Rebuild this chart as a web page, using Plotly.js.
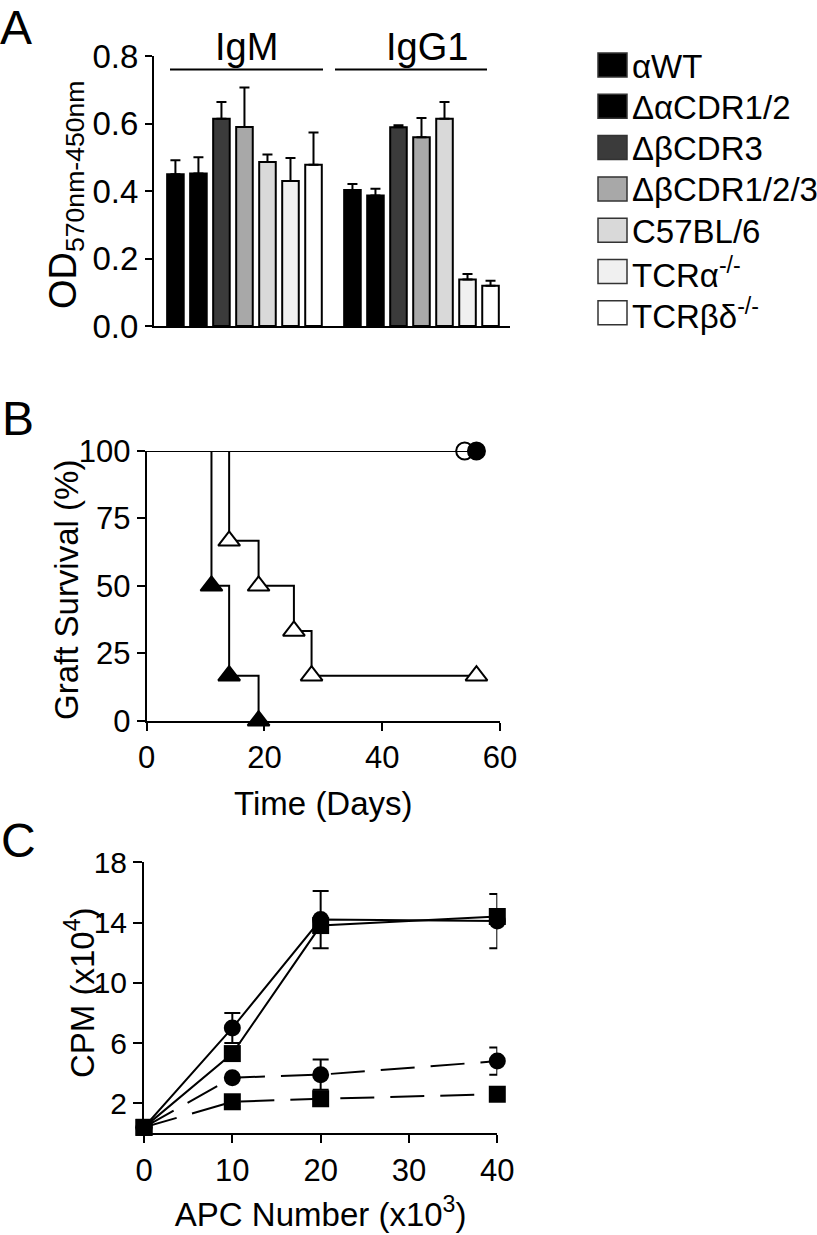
<!DOCTYPE html>
<html>
<head>
<meta charset="utf-8">
<script src="https://cdn.plot.ly/plotly-3.0.1.min.js"></script>
<style>
html,body{margin:0;padding:0;background:#fff;}
#chart{width:817px;height:1235px;}
</style>
</head>
<body>
<div id="chart"></div>
<script>
// ---------- Panel A data ----------
const odCategories = ['IgM', 'IgG1'];
const strainNames = ['αWT', 'ΔαCDR1/2', 'ΔβCDR3', 'ΔβCDR1/2/3', 'C57BL/6', 'TCRα<sup>-/-</sup>', 'TCRβδ<sup>-/-</sup>'];
const igmValues  = [0.450, 0.452, 0.614, 0.590, 0.486, 0.430, 0.478];
const igmErrors  = [0.041, 0.048, 0.050, 0.117, 0.022, 0.068, 0.095];
const igg1Values = [0.403, 0.387, 0.589, 0.559, 0.614, 0.138, 0.119];
const igg1Errors = [0.018, 0.020, 0.006, 0.057, 0.050, 0.016, 0.015];
const odTicks = [0.0, 0.2, 0.4, 0.6, 0.8];

// ---------- Panel B data ----------
const rejectFastDays = [0, 11, 14, 19];
const rejectFastSurv = [100, 50, 16.7, 0];
const rejectSlowDays = [0, 14, 19, 25, 28, 56];
const rejectSlowSurv = [100, 66.7, 50, 33.3, 16.7, 16.7];
const acceptOpenDays = [0, 54];
const acceptOpenSurv = [100, 100];
const acceptFilledDays = [0, 56];
const acceptFilledSurv = [100, 100];
const survivalTicks = [0, 25, 50, 75, 100];
const dayTicks = [0, 20, 40, 60];

// ---------- Panel C data ----------
const apcNumber = [0, 10, 20, 40];
const cpmCircleSolid = [0.4, 7.0, 14.2, 14.1];
const cpmCircleSolidErr = [0, 1.0, 1.9, 1.8];
const cpmSquareSolid = [0.4, 5.3, 13.8, 14.4];
const cpmCircleDashed = [0.4, 3.7, 3.9, 4.8];
const cpmCircleDashedErr = [0, 0, 1.0, 0.9];
const cpmSquareDashed = [0.4, 2.1, 2.3, 2.6];
const apcTicks = [0, 10, 20, 30, 40];
const cpmTicks = [2, 6, 10, 14, 18];

// ---------- styles ----------
const W = 817, H = 1235;
const FONT = 'Liberation Sans, Arial, Helvetica, sans-serif';
const strainColors = ['#000000', '#000000', '#3b3b3b', '#a8a8a8', '#d9d9d9', '#f0f0f0', '#ffffff'];
const px = x => x / W;
const py = y => 1 - y / H;

const traces = [];

// Panel A bars
strainNames.forEach((name, i) => {
  traces.push({
    type: 'bar', name: name, xaxis: 'x', yaxis: 'y',
    x: odCategories,
    y: [igmValues[i], igg1Values[i]],
    marker: {color: strainColors[i], line: {color: '#000', width: 2}},
    error_y: {type: 'data', symmetric: false, array: [igmErrors[i], igg1Errors[i]], arrayminus: [0, 0],
              color: '#000', thickness: 2, width: 5},
    showlegend: false, cliponaxis: false
  });
});

// Panel B survival curves
function kmTraces(days, surv, symbol, fill) {
  traces.push({type: 'scatter', mode: 'lines', xaxis: 'x2', yaxis: 'y2', x: days, y: surv,
    line: {color: '#000', width: 2, shape: 'hv'}, showlegend: false, cliponaxis: false});
  traces.push({type: 'scatter', mode: 'markers', xaxis: 'x2', yaxis: 'y2', x: days.slice(1), y: surv.slice(1),
    marker: {symbol: symbol, size: symbol.indexOf('triangle') === 0 ? 19 : 17, color: fill, line: {color: '#000', width: 2}},
    showlegend: false, cliponaxis: false});
}
kmTraces(rejectSlowDays, rejectSlowSurv, 'triangle-up', '#ffffff');
kmTraces(rejectFastDays, rejectFastSurv, 'triangle-up', '#000000');
kmTraces(acceptOpenDays, acceptOpenSurv, 'circle', '#ffffff');
kmTraces(acceptFilledDays, acceptFilledSurv, 'circle', '#000000');

// Panel C proliferation
function cpmTrace(y, err, symbol, dash) {
  const t = {type: 'scatter', mode: 'lines+markers', xaxis: 'x3', yaxis: 'y3', x: apcNumber, y: y,
    line: {color: '#000', width: 2, dash: dash},
    marker: {symbol: symbol, size: 17, color: '#000'},
    showlegend: false, cliponaxis: false};
  if (err) t.error_y = {type: 'data', array: err, color: '#000', thickness: 2, width: 8};
  traces.push(t);
}
cpmTrace(cpmCircleDashed, cpmCircleDashedErr, 'circle', '34px,16px');
cpmTrace(cpmSquareDashed, null, 'square', '34px,16px');
cpmTrace(cpmSquareSolid, null, 'square', 'solid');
cpmTrace(cpmCircleSolid, cpmCircleSolidErr, 'circle', 'solid');

const axisBase = {showline: true, linecolor: '#000', linewidth: 2, showgrid: false, zeroline: false,
  ticks: 'outside', tickwidth: 2, tickcolor: '#000', fixedrange: true};

const shapes = [];
const annotations = [];

// group brackets above bars
[[170, 323], [335, 487]].forEach(b => {
  shapes.push({type: 'line', xref: 'paper', yref: 'paper', x0: px(b[0]), x1: px(b[1]), y0: py(69.5), y1: py(69.5),
    line: {color: '#000', width: 2}});
});
[[247, odCategories[0]], [427, odCategories[1]]].forEach(g => {
  annotations.push({xref: 'paper', yref: 'paper', x: px(g[0]), y: py(47), text: g[1], showarrow: false,
    xanchor: 'center', yanchor: 'middle', font: {size: 38, color: '#000', family: FONT}});
});

// custom legend for panel A
strainNames.forEach((name, i) => {
  const cy = 65 + i * 41.3;
  shapes.push({type: 'rect', xref: 'paper', yref: 'paper', x0: px(598), x1: px(627), y0: py(cy + 12), y1: py(cy - 12),
    fillcolor: strainColors[i], line: {color: '#333', width: 1.5}});
  annotations.push({xref: 'paper', yref: 'paper', x: px(630), y: py(cy + 1), text: name, showarrow: false,
    xanchor: 'left', yanchor: 'middle', font: {size: 33, color: '#000', family: FONT}});
});

// panel letters
[['A', 16, 27], ['B', 18, 418], ['C', 18, 840]].forEach(l => {
  annotations.push({xref: 'paper', yref: 'paper', x: px(l[1]), y: py(l[2]), text: l[0], showarrow: false,
    xanchor: 'center', yanchor: 'middle', font: {size: 48, color: '#000', family: FONT}});
});

// vertical axis titles (placed as rotated text beside each y axis)
[['OD<sub>570nm-450nm</sub>', 66, 195, 38],
 ['Graft Survival (%)', 66, 590, 33],
 ['CPM (x10<sup>4</sup>)', 80, 993, 33]].forEach(t => {
  annotations.push({xref: 'paper', yref: 'paper', x: px(t[1]), y: py(t[2]), text: t[0], showarrow: false,
    textangle: -90, xanchor: 'center', yanchor: 'middle', font: {size: t[3], color: '#000', family: FONT}});
});

const layout = {
  width: W, height: H,
  margin: {l: 0, r: 0, t: 0, b: 0},
  paper_bgcolor: '#fff', plot_bgcolor: 'rgba(0,0,0,0)',
  font: {family: FONT, color: '#000'},
  showlegend: false,
  barmode: 'group', bargap: 0.09, bargroupgap: 0.28,
  xaxis: Object.assign({}, axisBase, {domain: [px(154), px(510)], anchor: 'y', range: [-0.511, 1.5],
    ticks: '', showticklabels: false}),
  yaxis: Object.assign({}, axisBase, {domain: [py(326), py(56)], anchor: 'x', range: [0, 0.8],
    tickvals: odTicks, tickformat: '.1f', ticklen: 7, tickfont: {size: 33}}),
  xaxis2: Object.assign({}, axisBase, {domain: [px(146.7), px(500)], anchor: 'y2', range: [0, 60],
    tickvals: dayTicks, ticklen: 8, tickfont: {size: 31},
    title: {text: 'Time (Days)', font: {size: 33}, standoff: 18}}),
  yaxis2: Object.assign({}, axisBase, {domain: [py(720.7), py(451)], anchor: 'x2', range: [0, 100],
    tickvals: survivalTicks, ticklen: 8, tickfont: {size: 31}}),
  xaxis3: Object.assign({}, axisBase, {domain: [px(144), px(497.3)], anchor: 'y3', range: [0, 40],
    tickvals: apcTicks, ticklen: 8, tickfont: {size: 31},
    title: {text: 'APC Number (x10<sup>3</sup>)', font: {size: 33}, standoff: 16}}),
  yaxis3: Object.assign({}, axisBase, {domain: [py(1133.4), py(862.3)], anchor: 'x3', range: [0, 18],
    tickvals: cpmTicks, ticklen: 9, tickfont: {size: 30}}),
  shapes: shapes,
  annotations: annotations
};

Plotly.newPlot('chart', traces, layout, {displayModeBar: false, staticPlot: true});
</script>
</body>
</html>
